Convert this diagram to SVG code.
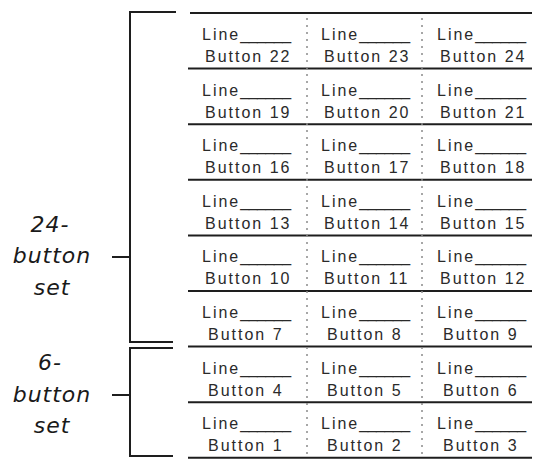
<svg xmlns="http://www.w3.org/2000/svg" width="534" height="460" viewBox="0 0 534 460">
<style>
.t{font-family:"Liberation Sans",Arial,sans-serif;font-size:16px;fill:#2a2a2a;letter-spacing:2px}
.u{letter-spacing:-0.5px}
.lab{font-family:"DejaVu Sans",sans-serif;font-style:italic;font-size:22px;fill:#1a1a1a;text-anchor:middle;letter-spacing:1px}
.rule{stroke:#1e1e1e;stroke-width:2;fill:none}
.sep{stroke:#8a8a8a;stroke-width:1.5;stroke-dasharray:2 5;fill:none}
.br{stroke:#1e1e1e;stroke-width:2;fill:none}
</style>
<rect width="534" height="460" fill="#fff"/>
<g id="grid">
<line class="rule" x1="190" y1="13" x2="532" y2="13"/>
<line class="rule" x1="188" y1="68.6" x2="532" y2="68.6"/>
<line class="rule" x1="188" y1="124.2" x2="532" y2="124.2"/>
<line class="rule" x1="188" y1="179.8" x2="532" y2="179.8"/>
<line class="rule" x1="188" y1="235.4" x2="532" y2="235.4"/>
<line class="rule" x1="188" y1="291" x2="532" y2="291"/>
<line class="rule" x1="188" y1="346.6" x2="532" y2="346.6"/>
<line class="rule" x1="188" y1="402.2" x2="532" y2="402.2"/>
<line class="rule" x1="188" y1="457.8" x2="532" y2="457.8"/>
<line class="sep" x1="307" y1="18" x2="307" y2="455"/>
<line class="sep" x1="422" y1="18" x2="422" y2="455"/>
</g>
<g id="connectors">
<path class="br" d="M176 12 H130 V342 H173"/>
<line class="br" x1="112" y1="257" x2="130" y2="257"/>
<path class="br" d="M173 348 H130 V456 H173"/>
<line class="br" x1="112" y1="395" x2="130" y2="395"/>
</g>
<g id="label24">
<text class="lab" x="50" y="232">24-</text>
<text class="lab" x="52" y="263">button</text>
<text class="lab" x="52" y="295">set</text>
</g>
<g id="label6">
<text class="lab" x="50" y="370">6-</text>
<text class="lab" x="52" y="402">button</text>
<text class="lab" x="52" y="433">set</text>
</g>
<g id="b22"><text class="t" x="202" y="40">Line<tspan class="u">______</tspan></text><text class="t" x="205" y="62">Button 22</text></g>
<g id="b23"><text class="t" x="321" y="40">Line<tspan class="u">______</tspan></text><text class="t" x="324" y="62">Button 23</text></g>
<g id="b24"><text class="t" x="437" y="40">Line<tspan class="u">______</tspan></text><text class="t" x="440" y="62">Button 24</text></g>
<g id="b19"><text class="t" x="202" y="95.6">Line<tspan class="u">______</tspan></text><text class="t" x="205" y="117.6">Button 19</text></g>
<g id="b20"><text class="t" x="321" y="95.6">Line<tspan class="u">______</tspan></text><text class="t" x="324" y="117.6">Button 20</text></g>
<g id="b21"><text class="t" x="437" y="95.6">Line<tspan class="u">______</tspan></text><text class="t" x="440" y="117.6">Button 21</text></g>
<g id="b16"><text class="t" x="202" y="151.2">Line<tspan class="u">______</tspan></text><text class="t" x="205" y="173.2">Button 16</text></g>
<g id="b17"><text class="t" x="321" y="151.2">Line<tspan class="u">______</tspan></text><text class="t" x="324" y="173.2">Button 17</text></g>
<g id="b18"><text class="t" x="437" y="151.2">Line<tspan class="u">______</tspan></text><text class="t" x="440" y="173.2">Button 18</text></g>
<g id="b13"><text class="t" x="202" y="206.8">Line<tspan class="u">______</tspan></text><text class="t" x="205" y="228.8">Button 13</text></g>
<g id="b14"><text class="t" x="321" y="206.8">Line<tspan class="u">______</tspan></text><text class="t" x="324" y="228.8">Button 14</text></g>
<g id="b15"><text class="t" x="437" y="206.8">Line<tspan class="u">______</tspan></text><text class="t" x="440" y="228.8">Button 15</text></g>
<g id="b10"><text class="t" x="202" y="262.4">Line<tspan class="u">______</tspan></text><text class="t" x="205" y="284.4">Button 10</text></g>
<g id="b11"><text class="t" x="321" y="262.4">Line<tspan class="u">______</tspan></text><text class="t" x="324" y="284.4">Button 11</text></g>
<g id="b12"><text class="t" x="437" y="262.4">Line<tspan class="u">______</tspan></text><text class="t" x="440" y="284.4">Button 12</text></g>
<g id="b7"><text class="t" x="202" y="318">Line<tspan class="u">______</tspan></text><text class="t" x="208" y="340">Button 7</text></g>
<g id="b8"><text class="t" x="321" y="318">Line<tspan class="u">______</tspan></text><text class="t" x="327" y="340">Button 8</text></g>
<g id="b9"><text class="t" x="437" y="318">Line<tspan class="u">______</tspan></text><text class="t" x="443" y="340">Button 9</text></g>
<g id="b4"><text class="t" x="202" y="373.6">Line<tspan class="u">______</tspan></text><text class="t" x="208" y="395.6">Button 4</text></g>
<g id="b5"><text class="t" x="321" y="373.6">Line<tspan class="u">______</tspan></text><text class="t" x="327" y="395.6">Button 5</text></g>
<g id="b6"><text class="t" x="437" y="373.6">Line<tspan class="u">______</tspan></text><text class="t" x="443" y="395.6">Button 6</text></g>
<g id="b1"><text class="t" x="202" y="429.2">Line<tspan class="u">______</tspan></text><text class="t" x="208" y="451.2">Button 1</text></g>
<g id="b2"><text class="t" x="321" y="429.2">Line<tspan class="u">______</tspan></text><text class="t" x="327" y="451.2">Button 2</text></g>
<g id="b3"><text class="t" x="437" y="429.2">Line<tspan class="u">______</tspan></text><text class="t" x="443" y="451.2">Button 3</text></g>
</svg>
